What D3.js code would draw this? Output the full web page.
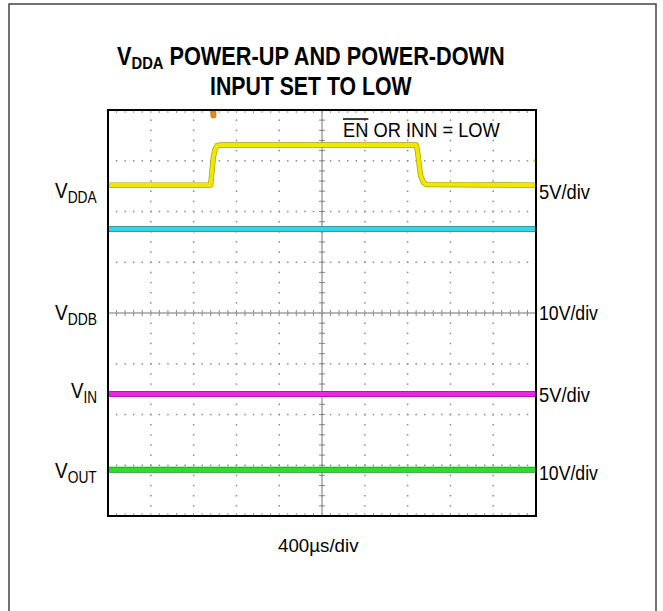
<!DOCTYPE html>
<html>
<head>
<meta charset="utf-8">
<script src="https://cdn.jsdelivr.net/npm/d3@7"></script>
<style>
  body { margin: 0; background: #fff; }
  text { font-family: "Liberation Sans", Arial, sans-serif; fill: #000; }
</style>
</head>
<body>
<svg id="chart" width="663" height="611"></svg>
<script>
// scope settings: 10 x 400us across, 8 vertical divisions
const timeDomain = [0, 4000];
const divDomain = [-4, 4];

// VDDA trace (time in us, volts), 5V/div, drawn at offset 2.52 div
const vddaTime = [0, 960, 972, 985, 1000, 1020, 1060, 2880, 2892, 2905, 2920, 2945, 2975, 4000];
const vddaVolts = [0, 0, 1.4, 2.8, 3.5, 3.9, 3.95, 3.95, 3.4, 2.3, 1.0, 0.3, 0.05, 0];

// flat channels (volts)
const flatTime = [0, 4000];
const vddaCyan = [0, 0];
const vddbVolts = [0, 0];
const vinVolts = [0, 0];
const voutVolts = [0, 0];

const channels = [
  { name: "vdda", time: vddaTime, volts: vddaVolts, perDiv: 5, offset: 2.52, color: "#f0e800", edge: "#a8a000", w: 4 },
  { name: "cyan", time: flatTime, volts: vddaCyan, perDiv: 5, offset: 1.655, color: "#30d8e8", edge: "#2a8c94", w: 4.5 },
  { name: "vddb", time: flatTime, volts: vddbVolts, perDiv: 10, offset: 0, color: "#a0a0a0", edge: "#a0a0a0", w: 1.5 },
  { name: "vin", time: flatTime, volts: vinVolts, perDiv: 5, offset: -1.596, color: "#ea24ea", edge: "#9a1a9a", w: 4.5 },
  { name: "vout", time: flatTime, volts: voutVolts, perDiv: 10, offset: -3.09, color: "#28e028", edge: "#1a901a", w: 4.5 }
];

const leftLabels = [
  { sub: "DDA", y: 198, w: 42 },
  { sub: "DDB", y: 320, w: 42 },
  { sub: "IN", y: 398, w: 26 },
  { sub: "OUT", y: 478, w: 42 }
];
const rightLabels = [
  { text: "5V/div", y: 199, w: 51 },
  { text: "10V/div", y: 320, w: 59 },
  { text: "5V/div", y: 402, w: 51 },
  { text: "10V/div", y: 480, w: 59 }
];
const triggerUs = 985;
const levelDiv = 3.0;

const svg = d3.select("#chart");
const x = d3.scaleLinear().domain(timeDomain).range([108, 536]);
const y = d3.scaleLinear().domain(divDomain).range([516, 110]);

// squeeze a text into a given width (the original font is narrow)
function fit(t, x0, baseline, width) {
  const bb = t.node().getBBox();
  const k = width / bb.width;
  t.attr("transform", "translate(" + (x0 - bb.x * k) + "," + baseline + ") scale(" + k + ",1)");
  return k;
}

// outer frame
svg.append("rect")
  .attr("x", 9).attr("y", 4).attr("width", 647).attr("height", 620)
  .attr("fill", "none").attr("stroke", "#444").attr("stroke-width", 1.5);

// dotted grid
const g = svg.append("g");
const xDiv = d3.range(1, 10).map(i => x(i * 400));
const yDiv = d3.range(-3, 4).map(i => y(i));
const xMinor = d3.range(0, 50).map(i => x(i * 80));
const yMinor = d3.range(0, 41).map(i => y(-4 + i * 0.2));
yDiv.forEach(yy => {
  xMinor.forEach(xx => g.append("rect").attr("x", xx - 0.7).attr("y", yy - 0.7)
    .attr("width", 1.5).attr("height", 1.5).attr("fill", "#8c8c8c"));
});
xDiv.forEach(xx => {
  yMinor.forEach(yy => g.append("rect").attr("x", xx - 0.7).attr("y", yy - 0.7)
    .attr("width", 1.5).attr("height", 1.5).attr("fill", "#8c8c8c"));
});
// border ticks
xMinor.forEach(xx => {
  g.append("line").attr("x1", xx).attr("x2", xx).attr("y1", 516).attr("y2", 513).attr("stroke", "#9a9a9a");
  g.append("line").attr("x1", xx).attr("x2", xx).attr("y1", 110).attr("y2", 113).attr("stroke", "#9a9a9a");
});

// center cross with ticks
const cx = x(2000), cy = y(0);
g.append("line").attr("x1", cx).attr("x2", cx).attr("y1", 110).attr("y2", 516)
  .attr("stroke", "#8a8a8a").attr("stroke-width", 1.2);
yMinor.forEach(yy => g.append("line").attr("x1", cx - 3).attr("x2", cx + 3)
  .attr("y1", yy).attr("y2", yy).attr("stroke", "#8a8a8a"));
xMinor.forEach(xx => g.append("line").attr("x1", xx).attr("x2", xx)
  .attr("y1", cy - 3).attr("y2", cy + 3).attr("stroke", "#8a8a8a"));

// traces
channels.forEach(c => {
  const pts = c.time.map((t, i) => [t, c.offset + c.volts[i] / c.perDiv]);
  const line = d3.line().x(d => x(d[0])).y(d => y(d[1]));
  if (c.w > 2) {
    svg.append("path").attr("d", line(pts)).attr("fill", "none")
      .attr("stroke", c.edge).attr("stroke-width", c.w + 1.4).attr("stroke-linejoin", "round");
  }
  svg.append("path").attr("d", line(pts)).attr("fill", "none")
    .attr("stroke", c.color).attr("stroke-width", c.w).attr("stroke-linejoin", "round");
});

// trigger position marker and level marker
svg.append("rect").attr("x", x(triggerUs) - 2.5).attr("y", 110).attr("width", 5).attr("height", 8)
  .attr("rx", 2).attr("fill", "#f08a00").attr("stroke", "#b06000").attr("stroke-width", 0.6);
svg.append("path")
  .attr("d", "M" + (x(4000) - 3) + "," + y(levelDiv) + "l3,-3.5v7z")
  .attr("fill", "#e8d800");

// plot frame
svg.append("rect").attr("x", 108).attr("y", 110).attr("width", 428).attr("height", 406)
  .attr("fill", "none").attr("stroke", "#000").attr("stroke-width", 2);

// title
const t1 = svg.append("text").attr("font-weight", "bold").attr("font-size", 25);
t1.append("tspan").text("V");
t1.append("tspan").attr("font-size", 17).attr("dy", 4).text("DDA");
t1.append("tspan").attr("dy", -4).text(" POWER-UP AND POWER-DOWN");
fit(t1, 117, 65, 388);
const t2 = svg.append("text").attr("font-weight", "bold").attr("font-size", 25).text("INPUT SET TO LOW");
fit(t2, 210, 95, 202);

// condition note with overline over EN
const note = svg.append("text").attr("font-size", 20).text("EN OR INN = LOW");
const k = fit(note, 343, 137, 157);
const enW = note.node().getSubStringLength(0, 2) * k;
svg.append("line").attr("x1", 343).attr("x2", 343 + enW).attr("y1", 119).attr("y2", 119)
  .attr("stroke", "#000").attr("stroke-width", 1.5);

// channel labels
leftLabels.forEach(l => {
  const t = svg.append("text").attr("font-size", 22);
  t.append("tspan").text("V");
  t.append("tspan").attr("font-size", 16).attr("dy", 5).text(l.sub);
  fit(t, 97 - l.w, l.y, l.w);
});
rightLabels.forEach(l => {
  const t = svg.append("text").attr("font-size", 20).text(l.text);
  fit(t, 539, l.y, l.w);
});

const xl = svg.append("text").attr("font-size", 19).text("400\u00b5s/div");
fit(xl, 278, 552, 81);
</script>
</body>
</html>
